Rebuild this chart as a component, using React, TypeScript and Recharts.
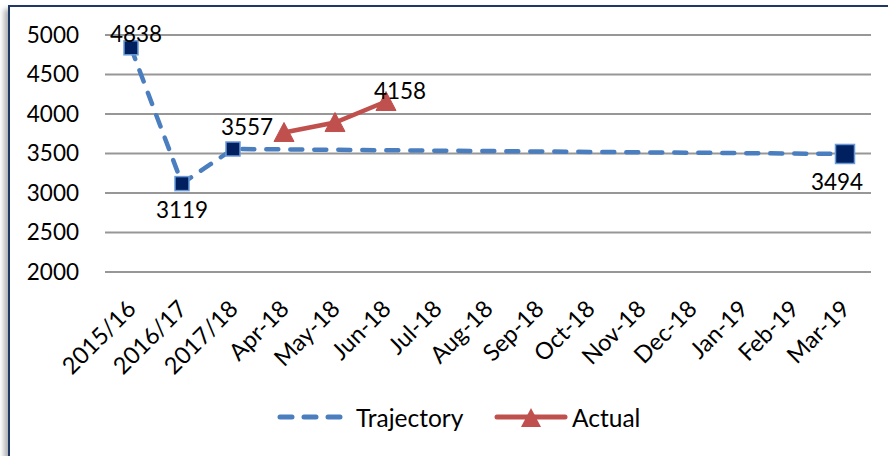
import React from "react";
import { CartesianGrid, LabelList, Line, LineChart, XAxis, YAxis } from "recharts";

const categories = [
  "2015/16", "2016/17", "2017/18", "Apr-18", "May-18", "Jun-18", "Jul-18",
  "Aug-18", "Sep-18", "Oct-18", "Nov-18", "Dec-18", "Jan-19", "Feb-19", "Mar-19",
];
const trajectory = [4838, 3119, 3557, 3552, 3547, 3541, 3536, 3531, 3526, 3520, 3515, 3510, 3505, 3499, 3494];
const actual = [null, null, null, 3766, 3892, 4158, null, null, null, null, null, null, null, null, null];
const yTicks = [2000, 2500, 3000, 3500, 4000, 4500, 5000];

const data = categories.map((month, i) => ({
  month,
  trajectory: trajectory[i],
  actual: actual[i],
}));

const FONT = "Lato, 'Open Sans', sans-serif";
const BLUE = "#4A7EBF";
const RED = "#C0504D";
const NAVY = "#002060";

// label offsets (dx, dy) from the point, by index
const trajLabelPos: Record<number, [number, number]> = { 0: [5, -14], 1: [0, 26], 2: [14, -22], 14: [-8, 28] };
const actualLabelPos: Record<number, [number, number]> = { 5: [14, -11] };

const makeLabel = (pos: Record<number, [number, number]>) => (props: any) => {
  const { x, y, value, index } = props;
  const off = pos[index];
  if (!off || value == null) return null;
  return (
    <text x={x + off[0]} y={y + off[1]} textAnchor="middle" dominantBaseline="central"
      fontSize={22.5} fontFamily={FONT} fill="#000">
      {value}
    </text>
  );
};

const TrajDot = (props: any) => {
  const { cx, cy, index } = props;
  if (![0, 1, 2, 14].includes(index)) return <g key={`td-${index}`} />;
  const s = index === 14 ? 19 : 14;
  return (
    <rect key={`td-${index}`} x={cx - s / 2} y={cy - s / 2} width={s} height={s}
      fill={NAVY} stroke="#6A9BD8" strokeWidth={1.5} />
  );
};

const ActualDot = (props: any) => {
  const { cx, cy, index } = props;
  if (cx == null || cy == null) return <g key={`ad-${index}`} />;
  return (
    <polygon key={`ad-${index}`}
      points={`${cx - 10},${cy + 9} ${cx + 10},${cy + 9} ${cx},${cy - 10}`}
      fill={RED} stroke={RED} strokeWidth={1} />
  );
};

const XTick = (props: any) => {
  const { x, y, payload } = props;
  const ty = y + 32;
  return (
    <text x={x} y={ty} textAnchor="end" dominantBaseline="central"
      transform={`rotate(-45, ${x}, ${ty})`} fontSize={23.5} fontFamily={FONT} fill="#000">
      {payload.value}
    </text>
  );
};

export default function App() {
  return (
    <div style={{ position: "absolute", left: 0, top: 0, width: 888, height: 456, overflow: "hidden", background: "#fff" }}>
      <div
        style={{
          position: "absolute", left: 8, top: 5, right: -20, bottom: -20,
          borderLeft: "2px solid #1F3864", borderTop: "2px solid #1F3864",
          boxShadow: "-4px 4px 5px rgba(0,0,0,0.3)", background: "#fff",
        }}
      />
      <div style={{ position: "absolute", left: 0, top: 0 }}>
        <LineChart width={888} height={456} data={data}
          margin={{ top: 35, right: 17, left: 0, bottom: 124 }}>
          <CartesianGrid vertical={false} stroke="#979797" strokeWidth={2} />
          <XAxis dataKey="month" interval={0} axisLine={false} tickLine={false}
            tickSize={0} tickMargin={0} height={60} padding={{ left: 26, right: 26 }}
            tick={<XTick />} />
          <YAxis domain={[2000, 5000]} ticks={yTicks} axisLine={false} tickLine={false}
            tickSize={0} tickMargin={26} width={105}
            tick={{ fontSize: 22.5, fontFamily: FONT, fill: "#000" }} />
          <Line dataKey="trajectory" stroke={BLUE} strokeWidth={4.5} strokeDasharray="12 12"
            strokeLinecap="round" dot={TrajDot} activeDot={false} isAnimationActive={false}>
            <LabelList dataKey="trajectory" content={makeLabel(trajLabelPos)} />
          </Line>
          <Line dataKey="actual" stroke={RED} strokeWidth={4.5} dot={ActualDot}
            activeDot={false} isAnimationActive={false}>
            <LabelList dataKey="actual" content={makeLabel(actualLabelPos)} />
          </Line>
        </LineChart>
      </div>
      <div style={{ position: "absolute", left: 0, top: 400, width: 888, height: 34 }}>
        <svg width={888} height={34} style={{ position: "absolute", left: 0, top: 0 }}>
          <line x1={280} y1={17} x2={340} y2={17} stroke={BLUE} strokeWidth={5}
            strokeDasharray="12 12" strokeLinecap="round" />
          <text x={356} y={17} dominantBaseline="central" fontSize={24.5} fontFamily={FONT} fill="#000">Trajectory</text>
          <line x1={497} y1={17} x2={565} y2={17} stroke={RED} strokeWidth={5} strokeLinecap="round" />
          <polygon points="521,27 541,27 531,8" fill={RED} />
          <text x={572} y={17} dominantBaseline="central" fontSize={24.5} fontFamily={FONT} fill="#000">Actual</text>
        </svg>
      </div>
    </div>
  );
}
